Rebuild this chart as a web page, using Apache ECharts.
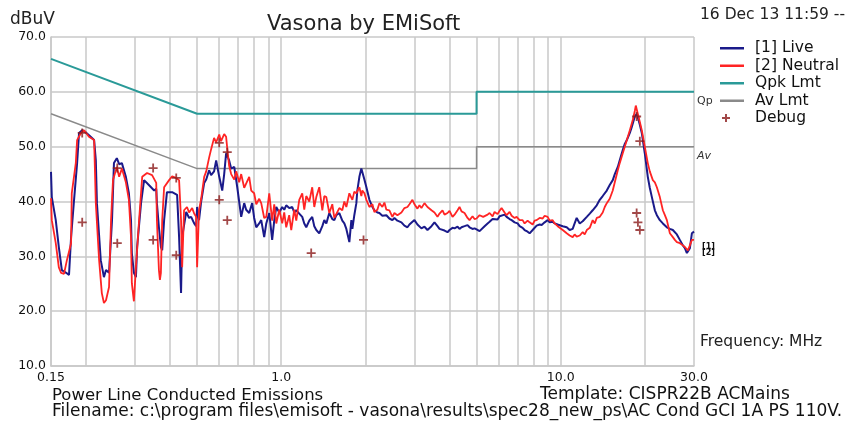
<!DOCTYPE html>
<html><head><meta charset="utf-8">
<script src="https://cdn.jsdelivr.net/npm/echarts@6/dist/echarts.min.js"></script>
<style>html,body{margin:0;padding:0;background:#fff}#c{width:858px;height:425px}</style>
</head><body><div id="c"></div>
<script>
// ---- DATA ----
const xTickLabels = [0.15, 1, 10, 30];
const xGridValues = [0.15,0.2,0.3,0.4,0.5,0.6,0.7,0.8,0.9,1,2,3,4,5,6,7,8,9,10,20,30];
const yMin = 10, yMax = 70, yStep = 10;

const qpkLimit = [[0.15,66],[0.5,56],[5,56],[5,60],[30,60]];
const avLimit  = [[0.15,56],[0.5,46],[5,46],[5,50],[30,50]];

const liveData = [
[0.15,45.4],[0.151,40.8],[0.156,36.6],[0.160,31.7],[0.164,27.5],[0.170,27.0],[0.174,26.6],[0.177,33.5],[0.181,39.7],[0.186,47.0],
[0.189,52.5],[0.194,53.0],[0.2,52.6],[0.208,51.8],[0.214,51.2],[0.217,47.5],[0.219,39.7],[0.226,29.3],[0.232,26.2],[0.236,27.5],
[0.242,27.0],[0.248,36.6],[0.252,47.0],[0.258,47.9],[0.263,46.8],[0.269,47.0],[0.278,44.5],[0.285,41.5],[0.290,36.6],[0.292,30.6],
[0.297,27.0],[0.302,26.2],[0.305,31.7],[0.315,39.7],[0.323,43.9],[0.336,43.0],[0.351,42.0],[0.357,42.3],[0.359,39.7],[0.365,35.3],
[0.371,31.7],[0.375,31.1],[0.381,36.6],[0.390,41.7],[0.407,41.7],[0.424,41.2],[0.431,33.5],[0.438,23.3],[0.442,33.5],[0.457,38.1],
[0.468,37.0],[0.476,37.2],[0.488,36.0],[0.496,35.5],[0.500,39.0],[0.508,36.6],[0.517,40.0],[0.530,43.4],[0.539,44.0],[0.552,45.7],
[0.561,44.8],[0.575,45.5],[0.585,47.5],[0.600,44.5],[0.615,42.0],[0.625,45.0],[0.635,48.8],[0.651,47.5],[0.662,46.0],[0.679,46.3],
[0.696,42.6],[0.707,40.0],[0.719,37.2],[0.737,39.7],[0.749,38.5],[0.768,37.9],[0.787,39.7],[0.800,37.0],[0.814,35.3],[0.834,36.0],
[0.848,36.6],[0.869,33.5],[0.884,36.0],[0.906,37.9],[0.928,33.0],[0.944,36.5],[0.960,39.0],[0.984,38.0],[1.008,39.0],[1.025,38.5],
[1.042,39.3],[1.068,38.8],[1.095,39.0],[1.113,38.0],[1.132,38.4],[1.160,37.8],[1.189,37.2],[1.209,36.0],[1.229,35.3],[1.260,36.5],
[1.291,37.2],[1.313,35.5],[1.335,34.8],[1.368,34.2],[1.403,35.5],[1.426,36.6],[1.450,36.0],[1.486,37.9],[1.523,36.8],[1.549,36.6],
[1.574,37.5],[1.614,37.9],[1.654,36.5],[1.682,36.0],[1.710,35.0],[1.753,32.6],[1.782,36.6],[1.797,35.0],[1.826,37.5],[1.857,39.7],
[1.872,42.0],[1.904,44.5],[1.935,46.0],[1.951,46.3],[1.984,44.0],[2.017,42.6],[2.068,40.3],[2.120,39.0],[2.154,38.4],[2.208,38.0],
[2.245,37.9],[2.301,37.4],[2.378,37.5],[2.438,36.9],[2.499,36.6],[2.541,37.0],[2.605,36.5],[2.692,36.2],[2.760,35.6],[2.829,35.3],
[2.876,35.8],[2.948,36.3],[2.997,36.6],[3.072,35.8],[3.123,35.5],[3.175,35.1],[3.255,35.4],[3.337,34.8],[3.449,35.5],[3.535,36.2],
[3.624,35.5],[3.685,35.0],[3.746,34.8],[3.840,34.7],[3.936,34.4],[4.002,34.8],[4.102,35.2],[4.171,35.1],[4.275,35.4],[4.345,35.0],
[4.418,35.3],[4.529,35.5],[4.642,35.7],[4.719,35.3],[4.837,35.0],[4.918,35.1],[5.0,34.9],[5.126,34.6],[5.211,34.8],[5.342,35.5],
[5.476,36.0],[5.567,36.3],[5.706,36.8],[5.800,37.0],[5.946,36.7],[6.045,37.3],[6.145,37.2],[6.299,37.6],[6.405,37.2],[6.565,36.8],
[6.675,36.6],[6.842,36.2],[7.014,36.0],[7.129,35.5],[7.308,35.2],[7.430,34.8],[7.616,34.5],[7.743,34.2],[7.937,34.8],[8.067,35.1],
[8.203,35.6],[8.409,35.8],[8.549,35.7],[8.764,36.2],[8.982,36.6],[9.133,36.2],[9.361,36.3],[9.517,36.0],[9.755,35.8],[9.917,36.0],
[10.17,35.5],[10.33,35.3],[10.51,35.3],[10.77,34.8],[11.04,35.0],[11.22,36.0],[11.41,37.0],[11.70,36.0],[11.99,36.4],[12.40,37.2],
[12.71,37.8],[13.02,38.4],[13.46,39.3],[13.80,40.3],[14.14,41.0],[14.62,42.0],[14.98,43.0],[15.36,43.9],[15.62,45.0],[16.01,46.3],
[16.27,47.5],[16.68,49.4],[16.96,50.5],[17.25,51.2],[17.68,52.5],[17.97,53.6],[18.42,55.5],[18.73,56.0],[19.20,54.0],[19.51,52.5],
[20.0,48.8],[20.50,44.5],[20.84,42.5],[21.20,40.8],[21.73,38.4],[22.09,37.5],[22.64,36.6],[23.21,36.0],[23.99,35.3],[24.59,35.0],
[25.20,34.8],[26.05,34.0],[26.70,33.0],[27.37,32.0],[27.83,31.5],[28.29,30.6],[29.0,31.5],[29.48,34.2],[30,34.5]
];

const neutralData = [
[0.15,40.6],[0.151,36.6],[0.156,32.4],[0.160,28.0],[0.163,27.0],[0.167,26.8],[0.171,29.3],[0.177,32.4],[0.178,41.5],[0.184,47.0],
[0.186,51.2],[0.192,52.5],[0.197,53.0],[0.205,51.8],[0.214,51.2],[0.217,39.7],[0.223,29.3],[0.228,23.3],[0.232,21.5],[0.236,22.0],
[0.242,24.4],[0.246,36.6],[0.250,43.9],[0.258,46.3],[0.263,44.5],[0.269,46.0],[0.278,43.5],[0.285,40.3],[0.290,33.5],[0.292,25.1],
[0.297,21.8],[0.302,28.0],[0.310,36.6],[0.318,44.5],[0.331,45.2],[0.345,44.8],[0.357,43.4],[0.359,36.6],[0.365,27.5],[0.368,25.7],
[0.371,27.0],[0.375,36.6],[0.381,42.6],[0.397,43.9],[0.407,44.6],[0.420,44.3],[0.431,43.9],[0.438,36.6],[0.442,28.0],[0.449,38.4],
[0.460,39.0],[0.468,38.0],[0.480,38.8],[0.488,37.8],[0.496,37.2],[0.500,28.0],[0.508,38.4],[0.517,40.5],[0.530,44.5],[0.539,45.5],
[0.552,48.0],[0.561,49.5],[0.575,51.6],[0.585,50.8],[0.600,52.2],[0.609,51.0],[0.625,52.3],[0.635,51.8],[0.640,50.0],[0.651,46.5],
[0.662,45.0],[0.679,44.0],[0.690,45.5],[0.707,43.5],[0.719,45.0],[0.737,42.5],[0.749,42.6],[0.768,44.5],[0.781,42.0],[0.800,41.5],
[0.814,39.5],[0.834,40.5],[0.848,39.7],[0.869,37.0],[0.884,37.2],[0.906,41.5],[0.928,36.5],[0.944,39.5],[0.960,36.0],[0.984,38.5],
[1.008,36.0],[1.025,38.0],[1.042,35.3],[1.068,37.5],[1.086,34.8],[1.113,38.5],[1.132,36.5],[1.160,40.3],[1.189,41.5],[1.209,38.5],
[1.229,41.0],[1.260,40.0],[1.291,42.6],[1.313,39.0],[1.335,40.8],[1.368,42.6],[1.403,38.4],[1.426,41.0],[1.450,40.8],[1.486,37.9],
[1.523,39.5],[1.549,37.0],[1.574,37.2],[1.614,38.8],[1.654,38.4],[1.682,40.0],[1.710,39.0],[1.753,41.5],[1.797,40.3],[1.826,41.8],
[1.857,41.5],[1.904,42.6],[1.935,41.0],[1.951,42.0],[1.984,41.5],[2.017,40.3],[2.068,39.0],[2.120,39.5],[2.154,38.1],[2.208,38.5],
[2.245,39.7],[2.301,39.0],[2.340,39.8],[2.378,38.5],[2.438,38.4],[2.499,37.2],[2.541,37.9],[2.605,37.5],[2.692,38.0],[2.760,38.8],
[2.829,39.0],[2.876,39.5],[2.948,40.3],[2.997,39.5],[3.072,38.7],[3.123,39.3],[3.175,38.8],[3.255,39.7],[3.337,39.0],[3.449,38.4],
[3.535,38.0],[3.624,37.2],[3.685,37.8],[3.777,38.4],[3.840,37.6],[3.936,37.9],[4.002,38.3],[4.102,37.2],[4.171,37.6],[4.275,38.4],
[4.345,39.0],[4.418,38.2],[4.529,37.9],[4.642,37.0],[4.719,36.6],[4.837,37.3],[4.918,36.8],[5.0,36.9],[5.126,37.5],[5.28,37.2],
[5.342,37.0],[5.476,37.6],[5.567,37.9],[5.706,37.3],[5.800,38.1],[5.946,37.7],[6.045,38.3],[6.145,38.8],[6.299,38.0],[6.405,37.5],
[6.565,38.1],[6.675,37.4],[6.842,37.0],[6.956,37.2],[7.129,36.6],[7.308,36.6],[7.430,36.0],[7.616,36.5],[7.743,36.2],[7.937,35.8],
[8.067,36.5],[8.203,36.6],[8.409,37.0],[8.620,36.9],[8.764,37.4],[8.982,37.2],[9.133,36.5],[9.361,36.6],[9.517,36.0],[9.755,35.5],
[9.917,35.3],[10.17,34.8],[10.33,34.5],[10.51,34.2],[10.77,33.8],[11.04,33.5],[11.22,34.0],[11.41,33.6],[11.70,33.8],[11.99,34.4],
[12.19,34.0],[12.40,34.8],[12.71,35.2],[13.02,36.6],[13.24,36.0],[13.46,37.0],[13.80,37.2],[14.14,38.0],[14.38,39.0],[14.62,39.7],
[14.98,40.5],[15.36,42.0],[15.62,43.5],[16.01,45.7],[16.27,47.0],[16.68,48.8],[16.96,50.0],[17.25,51.2],[17.68,53.0],[18.12,54.9],
[18.42,56.5],[18.57,57.5],[18.88,56.0],[19.20,54.5],[19.51,53.0],[20.0,50.0],[20.50,47.0],[20.84,45.5],[21.37,43.9],[21.73,43.5],
[22.09,42.6],[22.64,40.8],[23.21,38.4],[23.60,37.5],[23.99,36.6],[24.59,34.2],[25.20,33.5],[25.62,33.0],[26.05,32.6],[26.70,32.4],
[27.37,32.0],[27.83,31.7],[28.53,31.1],[29.0,32.0],[29.48,33.0],[30,33.0]
];

const debugData = [
[0.194,52.5],[0.194,36.2],[0.259,46.1],[0.259,32.4],[0.348,46.1],[0.348,33.0],[0.421,44.3],[0.421,30.2],
[0.600,50.7],[0.641,49.0],[0.600,40.3],[0.641,36.6],[1.28,30.6],[1.97,33.0],
[18.7,55.5],[19.2,51.0],[18.7,37.9],[18.9,36.2],[19.2,34.8]
];

const seriesNames = ['[1] Live', '[2] Neutral', 'Qpk Lmt', 'Av Lmt', 'Debug'];

// ---- CHART ----
const FONT = '"DejaVu Sans", "Liberation Sans", Arial, sans-serif';
const lineIcon = 'path://M0,0L0.01,0L0.01,0.01Z M0,4L24,4L24,6.5L0,6.5Z M24,10L23.99,10L23.99,9.99Z';
const plusIcon = 'path://M0,0L0.01,0L0.01,0.01Z M24,10L23.99,10L23.99,9.99Z M5,1L7,1L7,4L10,4L10,6L7,6L7,9L5,9L5,6L2,6L2,4L5,4Z';
const plusSymbol = 'path://M4,0L6,0L6,4L10,4L10,6L6,6L6,10L4,10L4,6L0,6L0,4L4,4Z';

const chart = echarts.init(document.getElementById('c'), null, {renderer: 'canvas'});
chart.setOption({
  animation: false,
  backgroundColor: '#fff',
  textStyle: {fontFamily: FONT},
  title: {
    text: 'Vasona by EMiSoft', left: 262, top: 9,
    textStyle: {fontSize: 21, fontWeight: 'normal', color: '#222', fontFamily: FONT}
  },
  grid: {left: 51, right: 164, top: 37, bottom: 59, containLabel: false},
  legend: {
    orient: 'vertical', left: 720, top: 40, padding: 0,
    itemWidth: 24, itemHeight: 10, itemGap: 1.5,
    textStyle: {fontSize: 15.5, color: '#111', fontFamily: FONT, padding: [0,0,0,6]},
    data: [
      {name: seriesNames[0], icon: lineIcon},
      {name: seriesNames[1], icon: lineIcon},
      {name: seriesNames[2], icon: lineIcon},
      {name: seriesNames[3], icon: lineIcon},
      {name: seriesNames[4], icon: plusIcon}
    ]
  },
  xAxis: {
    type: 'log', logBase: 10, min: 0.15, max: 30,
    axisLine: {show: true, onZero: false, lineStyle: {color: '#c8c8c8', width: 1.5}},
    axisTick: {show: false, customValues: xGridValues},
    splitLine: {show: true, lineStyle: {color: '#c8c8c8', width: 1.5}},
    minorSplitLine: {show: false},
    axisLabel: {
      customValues: xTickLabels, margin: 5, fontSize: 12.5, color: '#111', fontFamily: FONT,
      formatter: v => (Math.abs(v - 0.15) < 1e-6 ? '0.15' : Number(v).toFixed(1))
    }
  },
  yAxis: {
    type: 'value', min: yMin, max: yMax, interval: yStep,
    axisLine: {show: true, lineStyle: {color: '#c8c8c8', width: 1.5}},
    axisTick: {show: false},
    splitLine: {show: true, lineStyle: {color: '#c8c8c8', width: 1.5}},
    axisLabel: {margin: 5, fontSize: 12.5, color: '#111', fontFamily: FONT, formatter: v => v.toFixed(1)}
  },
  series: [
    {name: seriesNames[2], type: 'line', data: qpkLimit, showSymbol: false, symbol: 'none', z: 2,
     color: '#2a9a98', lineStyle: {color: '#2a9a98', width: 2}},
    {name: seriesNames[3], type: 'line', data: avLimit, showSymbol: false, symbol: 'none', z: 2,
     color: '#8a8a8a', lineStyle: {color: '#8a8a8a', width: 1.5}},
    {name: seriesNames[0], type: 'line', data: liveData, showSymbol: false, symbol: 'none', z: 3,
     color: '#1a1a8a', lineStyle: {color: '#1a1a8a', width: 2}},
    {name: seriesNames[1], type: 'line', data: neutralData, showSymbol: false, symbol: 'none', z: 4,
     color: '#ff2424', lineStyle: {color: '#ff2424', width: 1.8}},
    {name: seriesNames[4], type: 'scatter', data: debugData, symbol: plusSymbol, symbolSize: 9, z: 5,
     color: '#8b1a1a', itemStyle: {color: '#8b1a1a'}}
  ],
  graphic: [
    {type: 'text', left: 10, top: 11, style: {text: 'dBuV', fill: '#222', font: '17px ' + FONT}},
    {type: 'text', left: 700, top: 7, style: {text: '16 Dec 13 11:59 --', fill: '#222', font: '15.5px ' + FONT}},
    {type: 'text', left: 697, top: 96, style: {text: 'Qp', fill: '#333', font: '11px ' + FONT}},
    {type: 'text', left: 697, top: 151, style: {text: 'Av', fill: '#333', font: 'italic 11px ' + FONT}},
    {type: 'text', left: 702, top: 243, style: {text: '[1]\n[2]', fill: '#111', font: 'bold 8px ' + FONT, lineHeight: 6}},
    {type: 'text', left: 700, top: 334, style: {text: 'Frequency: MHz', fill: '#222', font: '15.5px ' + FONT}},
    {type: 'text', left: 52, top: 387, style: {text: 'Power Line Conducted Emissions', fill: '#111', font: '16.5px ' + FONT}},
    {type: 'text', left: 540, top: 386, style: {text: 'Template: CISPR22B ACMains', fill: '#111', font: '17px ' + FONT}},
    {type: 'text', left: 52, top: 403, style: {text: 'Filename: c:\\program files\\emisoft - vasona\\results\\spec28_new_ps\\AC Cond GCI 1A PS 110V.', fill: '#111', font: '17px ' + FONT}}
  ]
});
</script>
</body></html>
